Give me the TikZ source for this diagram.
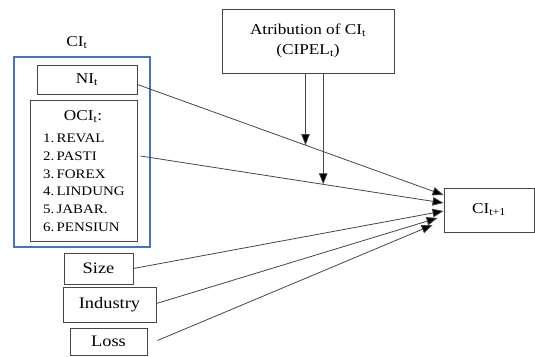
\documentclass[tikz,border=0pt]{standalone}
\usepackage{fontspec}
\setmainfont[FakeStretch=1.15]{Liberation Serif}
\usepackage{xcolor}
\usetikzlibrary{positioning, arrows.meta}
\definecolor{boxline}{RGB}{70,70,70}
\definecolor{wordblue}{RGB}{68,114,196}

\begin{document}
\begin{tikzpicture}[x=1pt, y=-1pt, >={Triangle[length=11pt,width=8.5pt,fill=black]},
	rect/.style={draw=boxline, line width=0.9pt, inner sep=0pt},
	item/.style={anchor=west, inner sep=0pt, font=\fontsize{13}{15}\selectfont},
	link/.style={->, draw=boxline, line width=0.8pt}]
	\useasboundingbox (0,0) rectangle (535,356);
	
	% Draw boxes
	\node (cilabel) at (77,43) {\fontsize{15}{18}\selectfont CI\textsubscript{t}};
	\node (cibox) [draw=wordblue, line width=1.1pt, minimum width=136pt, minimum height=190pt] at (82,152) {};
	\node (ni) [rect, minimum width=100pt, minimum height=29pt, font=\fontsize{15}{18}\selectfont] at (87,79.5) {NI\textsubscript{t}};
	\node (oci) [rect, minimum width=107pt, minimum height=141pt] at (83.5,170.5) {};
	\node (ocititle) at (83,117) {\fontsize{15}{18}\selectfont OCI\textsubscript{t}:};
	\node (reval) [item] at (43,138) {1.\,REVAL};
	\node (pasti) [item] at (43,156) {2.\,PASTI};
	\node (forex) [item] at (43,174) {3.\,FOREX};
	\node (lindung) [item] at (43,191.5) {4.\,LINDUNG};
	\node (jabar) [item] at (43,209) {5.\,JABAR.};
	\node (pensiun) [item] at (43,227) {6.\,PENSIUN};
	\node (size) [rect, minimum width=69pt, minimum height=31pt, font=\fontsize{16}{19}\selectfont] at (98.5,268.5) {Size};
	\node (industry) [rect, minimum width=93pt, minimum height=35pt, font=\fontsize{16}{19}\selectfont] at (109.5,304.5) {Industry};
	\node (loss) [rect, minimum width=77pt, minimum height=27pt, font=\fontsize{16}{19}\selectfont] at (108.5,341.5) {Loss};
	\node (atrib) [rect, minimum width=172pt, minimum height=64pt, align=center, font=\fontsize{15}{20}\selectfont] at (308,41) {Atribution of CI\textsubscript{t}\\(CIPEL\textsubscript{t})};
	\node (cinext) [rect, minimum width=90pt, minimum height=44pt, font=\fontsize{15}{18}\selectfont] at (489,210) {CI\textsubscript{t+1}};
	
	% Draw arrows
	\draw[link] ([yshift=-5pt]ni.east) -- ([yshift=15pt]cinext.west) coordinate[pos=0.549] (m1);
	\draw[link] ([xshift=3pt]oci.east |- pasti) -- ([yshift=7pt]cinext.west) coordinate[pos=0.603] (m2);
	\draw[link] (size.east) -- ([yshift=-1pt]cinext.west);
	\draw[link] ([yshift=1pt]industry.east) -- ([xshift=-6pt,yshift=-8pt]cinext.west);
	\draw[link] ([xshift=10pt,yshift=1pt]loss.east) -- ([xshift=-11pt,yshift=-15pt]cinext.west);
	\draw[link] (atrib.south -| m1) -- (m1);
	\draw[link] (atrib.south -| m2) -- (m2);
	
\end{tikzpicture}
\end{document}
